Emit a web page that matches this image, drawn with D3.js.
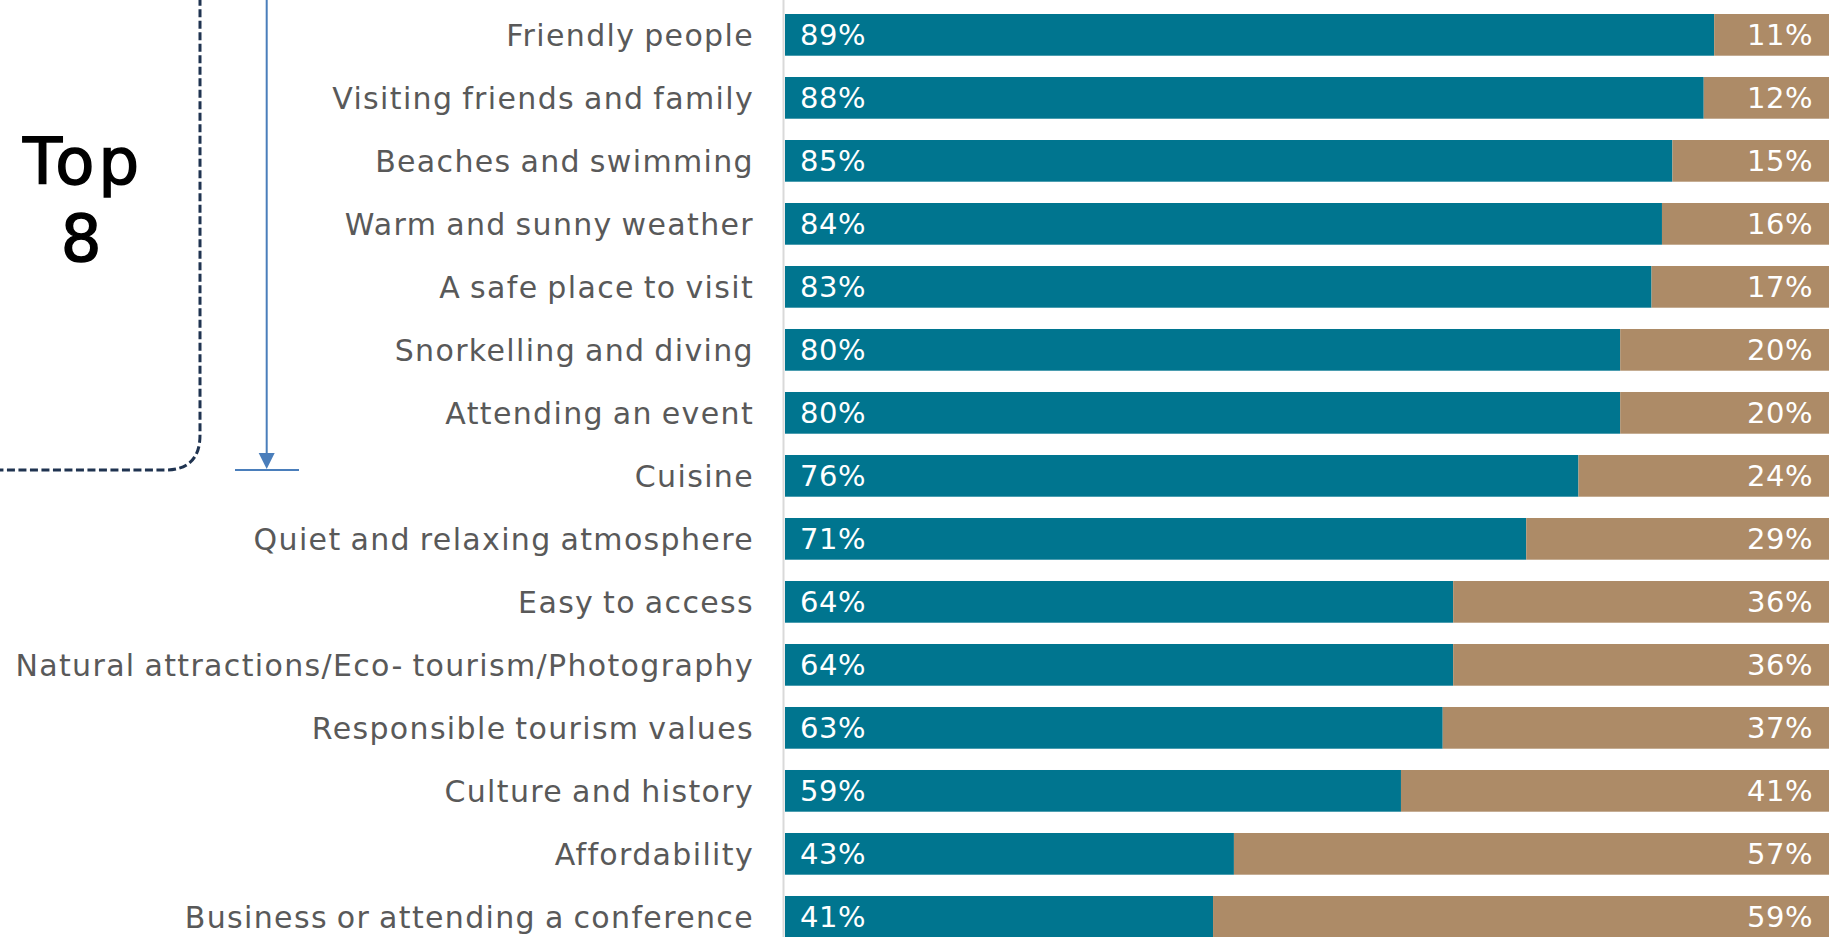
<!DOCTYPE html>
<html>
<head>
<meta charset="utf-8">
<script src="https://cdn.jsdelivr.net/npm/d3@7"></script>
<style>
  html, body { margin: 0; padding: 0; background: #ffffff; overflow: hidden; }
  svg { display: block; }
</style>
</head>
<body>
<svg id="chart" width="1829" height="937"></svg>
<script>
// Attributes rated by visitors, top to bottom
const categories = [
  "Friendly people",
  "Visiting friends and family",
  "Beaches and swimming",
  "Warm and sunny weather",
  "A safe place to visit",
  "Snorkelling and diving",
  "Attending an event",
  "Cuisine",
  "Quiet and relaxing atmosphere",
  "Easy to access",
  "Natural attractions/Eco- tourism/Photography",
  "Responsible tourism values",
  "Culture and history",
  "Affordability",
  "Business or attending a conference"
];
// Share of respondents (%) in each of the two segments
const primaryValues   = [89, 88, 85, 84, 83, 80, 80, 76, 71, 64, 64, 63, 59, 43, 41];
const secondaryValues = [11, 12, 15, 16, 17, 20, 20, 24, 29, 36, 36, 37, 41, 57, 59];
const xDomain = [0, 100];
const topGroupSize = 8;
const topGroupLabel = ["Top", String(topGroupSize)];

const colors = { primary: "#00758f", secondary: "#ad8b67" };

const svg = d3.select("#chart");
const W = 1829, H = 937;

const x = d3.scaleLinear().domain(xDomain).range([785, W]);
const y = d3.scaleBand().domain(categories).range([14, 937.7]).paddingInner(0.338).paddingOuter(0).align(0);

const rows = categories.map((c, i) => ({ cat: c, a: primaryValues[i], b: secondaryValues[i] }));

// vertical category axis line
svg.append("line")
  .attr("x1", 783.5).attr("x2", 783.5)
  .attr("y1", 0).attr("y2", H)
  .attr("stroke", "#d9d9d9").attr("stroke-width", 2);

const g = svg.append("g");

const row = g.selectAll("g.row").data(rows).join("g").attr("class", "row");

row.append("rect")
  .attr("x", x(0))
  .attr("y", d => y(d.cat))
  .attr("width", d => x(d.a) - x(0))
  .attr("height", y.bandwidth())
  .attr("fill", colors.primary);

row.append("rect")
  .attr("x", d => x(d.a))
  .attr("y", d => y(d.cat))
  .attr("width", d => x(d.a + d.b) - x(d.a))
  .attr("height", y.bandwidth())
  .attr("fill", colors.secondary);

const labelFont = "'DejaVu Sans', sans-serif";

row.append("text")
  .attr("x", x(0) + 15)
  .attr("y", d => y(d.cat) + y.bandwidth() / 2)
  .attr("dy", "0.36em")
  .attr("fill", "#ffffff")
  .attr("font-family", labelFont)
  .attr("font-size", 29)
  .attr("letter-spacing", 0.5)
  .text(d => d.a + "%");

row.append("text")
  .attr("x", x(100) - 16)
  .attr("y", d => y(d.cat) + y.bandwidth() / 2)
  .attr("dy", "0.36em")
  .attr("text-anchor", "end")
  .attr("fill", "#ffffff")
  .attr("font-family", labelFont)
  .attr("font-size", 29)
  .attr("letter-spacing", 0.5)
  .text(d => d.b + "%");

// category labels
row.append("text")
  .attr("x", 754)
  .attr("y", d => y(d.cat) + y.bandwidth() / 2)
  .attr("dy", "0.36em")
  .attr("text-anchor", "end")
  .attr("fill", "#595959")
  .attr("font-family", labelFont)
  .attr("font-size", 30)
  .attr("letter-spacing", 1.35)
  .attr("word-spacing", -2)
  .text(d => d.cat);

// dashed bracket around the top group
const bx0 = -40, by0 = -40, bx1 = 200, by1 = 470, r = 35;
svg.append("path")
  .attr("d", `M${bx0},${by0} H${bx1 - r} Q${bx1},${by0} ${bx1},${by0 + r} V${by1 - r} Q${bx1},${by1} ${bx1 - r},${by1} H${bx0}`)
  .attr("fill", "none")
  .attr("stroke", "#1f3350")
  .attr("stroke-width", 3)
  .attr("stroke-dasharray", "8,3.5");

const tg = svg.append("text")
  .attr("text-anchor", "middle")
  .attr("fill", "#000000")
  .attr("stroke", "#000000")
  .attr("stroke-width", 1.5)
  .attr("font-family", labelFont)
  .attr("font-size", 64)
  .attr("letter-spacing", 4);
tg.selectAll("tspan").data(topGroupLabel).join("tspan")
  .attr("x", 83)
  .attr("y", (d, i) => 184 + i * 77)
  .text(d => d);

// arrow marking the cut-off after the top group
const arrowX = 266.7;
const cutY = 470;
svg.append("line")
  .attr("x1", arrowX).attr("x2", arrowX)
  .attr("y1", 0).attr("y2", cutY - 14)
  .attr("stroke", "#4a7ebb").attr("stroke-width", 2);
svg.append("path")
  .attr("d", `M${arrowX - 8},${cutY - 17} L${arrowX + 8},${cutY - 17} L${arrowX},${cutY - 1} Z`)
  .attr("fill", "#4a7ebb");
svg.append("line")
  .attr("x1", 235).attr("x2", 299)
  .attr("y1", cutY).attr("y2", cutY)
  .attr("stroke", "#4a7ebb").attr("stroke-width", 2);
</script>
</body>
</html>
